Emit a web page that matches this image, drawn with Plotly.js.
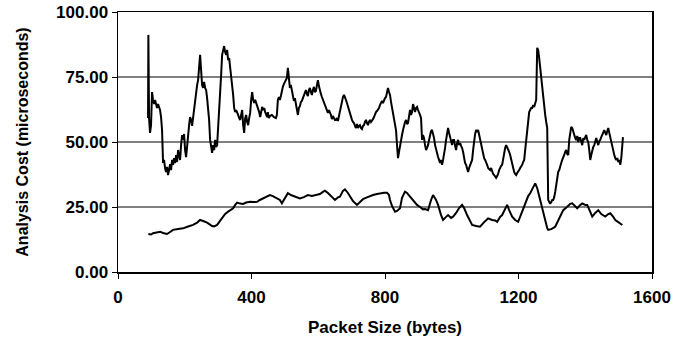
<!DOCTYPE html>
<html>
<head>
<meta charset="utf-8">
<script src="https://cdn.plot.ly/plotly-3.0.1.min.js"></script>
<style>html,body{margin:0;padding:0;background:#fff;}#chart{width:685px;height:346px;}</style>
</head>
<body>
<div id="chart"></div>
<script>
// Upper series: packet size (bytes) and analysis cost (microseconds)
const upperX = [90,91,93,96,99,102,105,108,111,114,117,120,126,129,132,135,138,141,144,147,150,153,156,159,162,165,168,171,174,177,180,183,186,189,192,195,198,201,204,207,210,213,216,219,222,225,228,231,234,237,240,243,246,249,252,255,258,261,264,267,270,273,276,279,282,285,288,291,294,297,300,303,306,309,312,315,318,321,324,327,330,333,336,339,342,345,348,351,354,357,360,363,366,369,372,375,378,381,384,387,390,393,396,399,402,405,408,411,414,417,420,423,426,429,432,435,438,441,444,447,449,452,455,461,467,473,476,479,482,485,488,491,494,497,500,503,506,509,512,515,518,521,524,527,530,533,536,539,542,545,548,551,554,557,560,563,566,569,572,575,578,581,584,587,590,593,596,599,602,605,608,611,614,617,620,623,626,629,632,635,638,641,644,647,650,653,656,659,662,665,668,671,674,677,680,683,686,689,692,695,698,701,704,707,710,713,716,719,722,725,728,731,734,737,740,743,746,749,752,755,758,761,764,767,770,773,776,779,782,785,788,791,794,797,800,803,806,809,812,815,818,821,824,827,830,833,836,839,842,845,848,851,854,857,860,863,866,869,872,875,878,881,884,887,890,893,896,899,902,905,908,911,914,917,920,923,926,929,932,935,938,941,944,947,950,953,956,959,962,965,968,971,974,977,980,983,986,989,992,995,998,1001,1004,1007,1010,1013,1016,1019,1022,1025,1028,1031,1034,1037,1040,1043,1046,1049,1052,1055,1058,1061,1064,1067,1070,1073,1076,1079,1082,1085,1088,1091,1094,1097,1100,1103,1106,1109,1112,1115,1118,1121,1124,1127,1130,1133,1136,1139,1142,1145,1148,1151,1154,1157,1160,1163,1166,1169,1172,1175,1178,1181,1184,1187,1190,1193,1196,1199,1202,1205,1208,1211,1214,1217,1220,1223,1226,1229,1232,1235,1238,1241,1244,1247,1250,1253,1256,1259,1262,1265,1268,1271,1274,1277,1280,1283,1286,1289,1292,1295,1298,1301,1304,1307,1310,1313,1316,1319,1322,1325,1328,1331,1334,1337,1340,1343,1346,1349,1352,1355,1358,1361,1364,1367,1370,1373,1376,1379,1382,1385,1388,1391,1394,1397,1400,1403,1406,1409,1412,1415,1418,1421,1424,1427,1430,1433,1436,1439,1442,1445,1448,1451,1454,1457,1460,1463,1466,1469,1472,1475,1478,1481,1484,1487,1490,1493,1496,1499,1502,1505,1508,1511,1513];
const upperY = [59.2,91.2,59.2,53.5,56.5,69.2,66.2,64.6,66.2,64.6,63.1,64.6,62.3,59.6,54.6,41.9,43.1,40.0,38.5,40.4,37.3,39.2,41.5,39.2,43.1,41.2,43.8,41.9,45.0,42.3,46.9,45.0,43.1,48.8,52.7,50.8,53.1,46.9,44.2,48.1,54.6,56.5,59.6,58.5,56.2,59.2,64.2,66.2,70.0,71.9,73.8,77.7,83.5,77.7,71.9,70.8,73.1,70.8,70.0,66.9,63.5,58.5,50.8,47.7,45.8,48.8,46.9,50.8,48.1,48.8,54.6,62.3,70.0,75.8,83.5,85.4,86.9,84.6,83.5,85.4,81.5,82.3,78.8,77.7,73.8,68.1,63.1,61.5,62.3,61.5,60.4,59.2,58.5,60.4,62.3,56.5,53.5,59.2,60.4,57.7,56.5,59.2,61.2,66.2,69.2,66.2,65.0,66.2,65.0,64.2,63.1,61.5,59.6,62.3,63.5,62.3,63.1,61.5,60.4,59.6,61.5,59.2,60.0,60.4,59.6,59.2,60.4,66.2,67.3,66.2,67.7,70.0,71.2,72.3,73.1,73.8,74.6,78.5,73.8,70.8,71.9,69.2,68.1,65.8,66.9,65.0,63.1,60.4,63.1,63.8,65.4,65.8,66.9,68.1,69.2,70.0,68.5,67.7,70.0,70.8,69.2,68.1,70.0,71.2,69.2,69.6,71.9,73.8,71.5,69.6,68.5,67.3,66.2,65.0,64.2,63.1,62.3,61.2,62.3,61.5,60.4,58.8,60.0,59.2,58.5,58.5,59.2,58.1,60.0,61.5,64.2,66.2,67.3,68.1,67.3,66.2,65.0,63.5,62.0,60.4,59.2,58.5,57.7,57.3,56.2,55.4,56.9,55.4,56.2,56.5,55.4,55.0,56.2,56.5,57.7,58.5,57.3,56.5,57.7,58.5,57.7,58.1,58.8,59.6,60.8,61.5,61.9,62.3,63.1,64.2,65.4,65.8,65.0,66.2,66.9,67.3,68.8,70.8,69.2,68.1,65.4,63.1,61.5,59.6,56.9,54.6,48.8,43.8,46.2,48.8,50.8,52.7,54.6,56.5,57.7,58.5,56.9,57.3,59.2,62.3,60.4,61.5,64.6,62.3,61.5,63.1,63.5,62.3,61.5,60.4,59.2,50.8,52.7,51.5,48.8,46.9,47.7,48.8,50.8,52.7,54.2,54.6,53.1,51.5,48.8,46.9,45.8,44.2,43.1,41.9,43.1,41.2,43.1,45.0,47.7,50.8,53.5,55.4,53.5,51.5,50.0,48.8,50.8,50.8,48.5,46.9,49.6,50.8,48.8,49.6,48.5,47.7,46.2,43.1,41.9,41.2,40.0,38.5,40.0,41.2,42.3,43.1,46.9,50.8,53.1,54.6,53.8,54.6,52.7,50.8,49.2,47.7,46.2,43.8,43.1,42.3,41.2,40.0,39.6,39.2,40.0,38.5,37.7,37.3,36.5,36.2,36.9,37.7,39.2,40.4,40.8,41.2,43.8,45.8,47.7,48.8,48.1,46.9,46.2,45.0,43.1,41.2,40.0,38.5,37.7,37.3,38.1,38.5,39.2,40.0,40.4,41.2,42.3,43.1,46.9,50.8,56.5,60.4,61.5,62.3,63.1,63.1,64.2,63.5,64.6,66.2,86.2,85.4,82.3,78.5,73.8,70.8,68.1,64.2,60.4,57.7,55.4,27.7,26.5,26.2,26.9,27.7,27.7,28.8,30.8,33.5,37.3,38.5,39.2,41.2,41.9,43.1,43.8,45.0,46.2,46.9,45.4,45.0,50.8,54.6,55.8,55.4,53.8,52.7,51.5,50.8,52.3,50.0,51.5,51.5,50.0,48.8,51.5,50.8,51.9,52.7,50.8,50.0,46.9,43.1,45.0,46.9,48.1,48.8,50.8,51.5,50.0,48.8,50.4,50.8,51.9,52.7,53.8,54.6,53.5,52.7,54.2,55.4,53.5,51.5,50.0,48.8,46.9,45.0,43.8,43.1,43.8,42.3,43.1,41.2,43.8,50.8,51.9];

// Lower series
const lowerX = [91,99,105,114,126,135,147,156,165,180,195,210,225,237,246,255,267,282,288,297,306,312,321,330,339,345,351,357,366,375,384,396,408,417,425,434,443,455,464,476,485,491,500,509,518,530,539,545,557,569,581,596,605,614,620,629,635,644,650,659,665,674,680,689,695,704,716,725,734,746,755,764,776,785,797,806,812,815,821,830,836,845,851,860,866,875,884,896,905,914,920,929,938,944,953,959,968,974,983,989,998,1004,1013,1022,1031,1037,1046,1055,1061,1073,1085,1097,1109,1121,1130,1136,1145,1151,1160,1166,1172,1181,1190,1199,1208,1214,1223,1229,1235,1244,1250,1256,1265,1271,1280,1286,1289,1298,1310,1319,1325,1334,1346,1355,1361,1370,1376,1385,1391,1400,1406,1415,1421,1430,1439,1448,1460,1469,1475,1484,1490,1499,1505,1511];
const lowerY = [14.6,14.4,14.9,15.2,15.5,15.0,14.6,15.4,16.2,16.5,16.8,17.5,18.1,19.0,20.0,19.6,19.0,17.7,17.5,18.1,19.6,20.6,22.3,23.2,23.8,24.5,25.8,26.7,26.3,26.2,26.7,27.0,26.9,27.0,27.7,28.3,28.8,29.6,29.2,28.3,27.7,26.4,28.5,30.3,29.6,29.0,28.8,28.3,28.8,29.6,29.2,29.6,30.0,30.8,31.3,30.4,29.6,28.5,27.7,28.7,29.0,31.2,31.8,30.4,29.0,27.3,25.8,26.9,28.0,28.7,29.2,29.6,30.0,30.3,30.5,30.5,29.6,27.7,25.4,23.2,23.5,24.5,28.5,30.9,30.4,29.0,27.7,25.8,25.0,24.1,24.2,23.8,27.7,29.6,27.7,25.8,21.9,20.0,21.2,21.9,20.8,21.3,22.7,24.6,25.8,24.6,21.9,19.6,18.1,17.7,17.4,19.2,20.6,20.0,19.8,19.3,21.2,21.9,24.6,25.8,23.8,21.3,20.0,19.3,22.3,24.5,27.3,29.2,30.3,32.7,34.1,32.3,27.7,23.8,19.3,16.9,16.2,16.5,17.4,20.0,21.9,23.8,25.1,26.2,26.4,25.4,24.5,25.8,26.4,25.8,25.8,23.1,21.3,22.7,23.8,22.3,21.3,22.3,22.6,21.2,20.0,19.2,18.8,18.1];

const xTicks = [0, 400, 800, 1200, 1600];
const yTicks = [0, 25, 50, 75, 100];
const yTickText = ["0.00", "25.00", "50.00", "75.00", "100.00"];

const lineStyle = {color: '#000000', width: 2};
const data = [
  {x: upperX, y: upperY, type: 'scatter', mode: 'lines', line: lineStyle, name: 'upper', hoverinfo: 'skip'},
  {x: lowerX, y: lowerY, type: 'scatter', mode: 'lines', line: lineStyle, name: 'lower', hoverinfo: 'skip'}
];

const fam = '"Liberation Sans", Arial, sans-serif';
const tickFont = {family: fam, size: 17, color: '#000000', weight: 'bold'};
const xTitleFont = {family: fam, size: 17, color: '#000000', weight: 'bold'};
const yTitleFont = {family: fam, size: 16, color: '#000000', weight: 'bold'};

const layout = {
  width: 685, height: 346,
  margin: {l: 118, r: 33, t: 12, b: 74},
  paper_bgcolor: '#ffffff', plot_bgcolor: '#ffffff',
  showlegend: false,
  font: tickFont,
  xaxis: {
    range: [0, 1600], tickvals: xTicks, ticktext: xTicks.map(String),
    showgrid: false, zeroline: false,
    showline: true, linecolor: '#000000', linewidth: 1.5, mirror: true,
    ticks: 'outside', ticklen: 5, tickwidth: 1, tickcolor: '#000000',
    tickfont: tickFont, ticklabelstandoff: 4,
    title: {text: 'Packet Size (bytes)', font: xTitleFont, standoff: 15}
  },
  yaxis: {
    range: [0, 100], tickvals: yTicks, ticktext: yTickText,
    showgrid: true, gridcolor: '#808080', gridwidth: 1.5,
    zeroline: false,
    showline: true, linecolor: '#000000', linewidth: 1.5, mirror: true,
    ticks: 'outside', ticklen: 5, tickwidth: 1, tickcolor: '#000000',
    tickfont: tickFont,
    title: {text: 'Analysis Cost (microseconds)', font: yTitleFont, standoff: 23}
  }
};

Plotly.newPlot('chart', data, layout, {staticPlot: true, displayModeBar: false});
</script>
</body>
</html>
